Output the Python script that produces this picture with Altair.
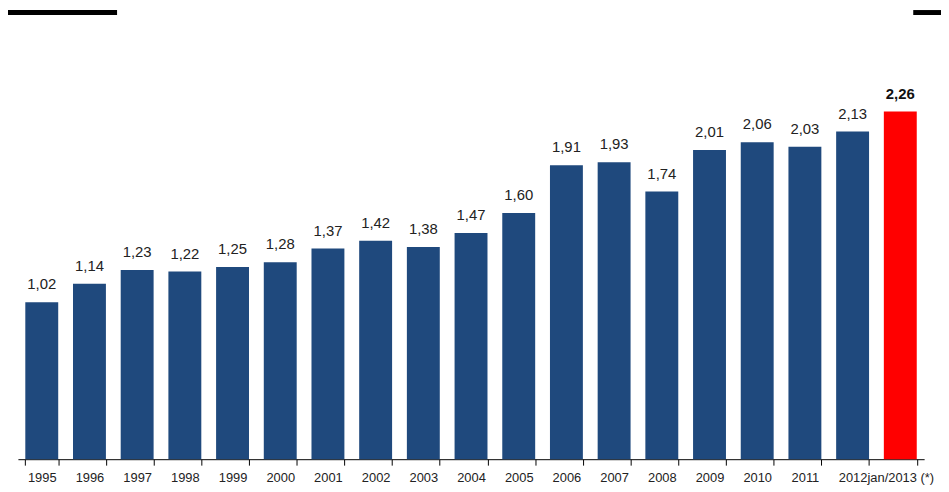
import altair as alt
import pandas as pd

categories = ["1995", "1996", "1997", "1998", "1999", "2000", "2001", "2002", "2003",
              "2004", "2005", "2006", "2007", "2008", "2009", "2010", "2011", "2012",
              "jan/2013 (*)"]
values = [1.02, 1.14, 1.23, 1.22, 1.25, 1.28, 1.37, 1.42, 1.38, 1.47, 1.60, 1.91,
          1.93, 1.74, 2.01, 2.06, 2.03, 2.13, 2.26]
highlight = [False] * 18 + [True]

df = pd.DataFrame({
    "cat": categories,
    "val": values,
    "hl": highlight,
    "label": [f"{v:.2f}".replace(".", ",") for v in values],
})

FONT = "Liberation Sans"

x = alt.X("cat:N", sort=categories,
          scale=alt.Scale(paddingInner=0.31, paddingOuter=0.155),
          axis=alt.Axis(title=None, labelAngle=0, labelFontSize=13, labelFont=FONT,
                        labelColor="#222222", tickColor="#000000", domainColor="#000000",
                        tickSize=6, tickBand="extent", labelPadding=6,
                        labelOverlap=False, labelBound=False, labelFlush=False))
y = alt.Y("val:Q", scale=alt.Scale(domain=[0, 2.9], nice=False), axis=None)

base = alt.Chart(df)

bars = base.mark_bar().encode(
    x=x, y=y,
    color=alt.condition("datum.hl", alt.value("#FF0000"), alt.value("#1F497D")),
)

text_normal = base.transform_filter("!datum.hl").mark_text(
    baseline="alphabetic", dy=-13, font=FONT, fontSize=15, color="#222222"
).encode(x=x, y=y, text="label:N")

text_bold = base.transform_filter("datum.hl").mark_text(
    baseline="alphabetic", dy=-13, font=FONT, fontSize=15, fontWeight="bold",
    color="#111111"
).encode(x=x, y=y, text="label:N")

deco = pd.DataFrame({"a": [0]})
left_rect = alt.Chart(deco).mark_rect(color="#000000").encode(
    x=alt.value(-10), x2=alt.value(100), y=alt.value(-3), y2=alt.value(2))
right_rect = alt.Chart(deco).mark_rect(color="#000000").encode(
    x=alt.value(903), x2=alt.value(935), y=alt.value(-3), y2=alt.value(2))

chart = alt.layer(bars, text_normal, text_bold, left_rect, right_rect).properties(
    width=914, height=450,
    autosize=alt.AutoSizeParams(type="none"),
    padding={"left": 10, "top": 3, "right": 17, "bottom": 28},
).configure_view(stroke=None)

chart.save("out.html", embed_options={"renderer": "svg", "actions": False})
